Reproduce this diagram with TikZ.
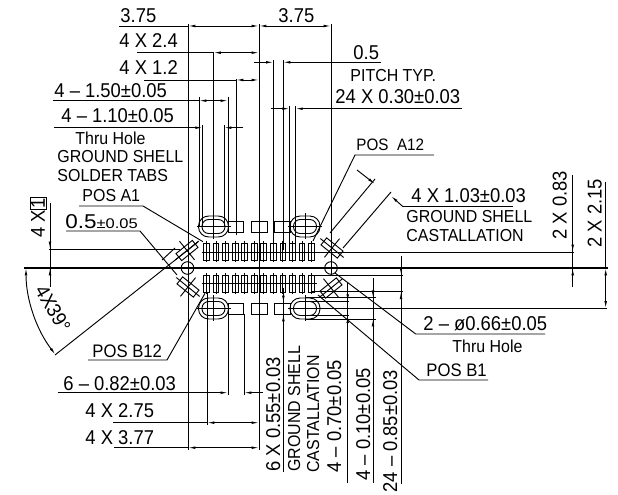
\documentclass[tikz,border=0pt]{standalone}
\usepackage{fontspec}
\setmainfont{Liberation Sans}[FakeStretch=0.92]
\usetikzlibrary{arrows.meta}

\begin{document}
\begin{tikzpicture}[x=0.75pt,y=-0.75pt,line width=0.7pt,color=black,
    >={Latex[length=5.5pt,width=2pt]},
    dimtext/.style={anchor=base west,inner sep=0pt,font=\fontsize{15}{16}\selectfont},
    notetext/.style={anchor=base west,inner sep=0pt,font=\fontsize{13}{15}\selectfont},
    padshell/.style={rounded corners=7.6pt},
    padhole/.style={rounded corners=5pt}]
  \useasboundingbox (0,0) rectangle (618,495);

  % signal pads
  \foreach \i in {0,...,11} {
    \pgfmathsetmacro{\padx}{206.5+9.55*\i}
    \draw (\padx-2.85,243) rectangle (\padx+2.85,260);
    \draw (\padx-2.85,275) rectangle (\padx+2.85,292);
    \draw (\padx,241) -- (\padx,262);
    \draw (\padx,273) -- (\padx,294);
  }
  \draw (202,252) -- (574,252);
  \draw (202,283.5) -- (317,283.5);

  % tab pads
  \foreach \padx in {236,259.5,282.7} {
    \draw (\padx-7.8,221) rectangle (\padx+7.8,232);
    \draw (\padx-7.8,303) rectangle (\padx+7.8,314);
  }

  % shell slots
  \foreach \slotx in {213.5,305} \foreach \sloty in {226.5,308.5} {
    \draw[padshell] (\slotx-15,\sloty-10.5) rectangle (\slotx+15,\sloty+10.5);
    \draw[padhole] (\slotx-11.5,\sloty-7) rectangle (\slotx+11.5,\sloty+7);
    \draw (\slotx-17,\sloty) -- (\slotx+17,\sloty);
    \draw (\slotx,\sloty-13) -- (\slotx,\sloty+13);
  }

  % corner holes and castellations
  \foreach \holex in {187.5,331} {
    \draw (\holex,268) circle[radius=6.3];
  }
  \foreach \cx/\cy/\ang in {187/250.5/39,188/287/-39,332/248/-39,331/288/39} {
    \begin{scope}[shift={(\cx,\cy)},rotate=\ang]
      \draw (-10.5,-4.5) rectangle (10.5,4.5);
      \draw (-15,0) -- (15,0);
      \draw (0,-12) -- (0,12);
    \end{scope}
  }

  % extension lines
  \draw[line width=0.95pt] (24,268) -- (608,268);
  \foreach \xa/\ya/\yb in {188/24/450,259/24/450,331/24/276,213.5/52/214,
      236/79/235,199/97/227,228/97/227,202.7/125/227,224/125/227,
      273.4/60/250,283/60/250,289.6/106/243,295.4/106/243,
      207/293/425,228/314/395,244/314/395} {
    \draw (\xa,\ya) -- (\xa,\yb);
  }
  \foreach \ya/\xa/\xb in {249/49/180,275/312/403,291.7/312/403,
      301.6/305/349,315.6/305/349,297.8/305/376,319/305/376,308.4/305/607} {
    \draw (\xa,\ya) -- (\xb,\ya);
  }

  % top dimensions
  \node[dimtext] (leftwidth) at (120,23) {3.75};
  \draw (119,26) -- (188,26);
  \draw[<->] (188,26) -- (259,26);
  \node[dimtext] (rightwidth) at (278,23) {3.75};
  \draw[<->] (259,26) -- (331,26);
  \node[dimtext] (slotpos) at (119,48) {4 X 2.4};
  \draw (137,52.7) -- (213.5,52.7);
  \draw[<->] (213.5,52.7) -- (259,52.7);
  \node[dimtext] (tabpos) at (119,75) {4 X 1.2};
  \draw (144,80) -- (236,80);
  \draw[<->] (236,80) -- (259,80);
  \node[dimtext] (slotouter) at (54,98) {4 -- 1.50±0.05};
  \draw (53,100.7) -- (199,100.7);
  \draw[<->] (199,100.7) -- (228,100.7);
  \node[dimtext] (slotinner) at (61,123) {4 -- 1.10±0.05};
  \draw[->] (54,127.7) -- (202.7,127.7);
  \draw[->] (243,127.7) -- (224,127.7);
  \node[dimtext] (pitch) at (353,60) {0.5};
  \draw[->] (254,62.3) -- (273.4,62.3);
  \draw[->] (381,62.3) -- (283,62.3);
  \node[notetext] (pitchnote) at (350,82) {PITCH TYP.};
  \node[dimtext] (padwidth) at (335,104) {24 X 0.30±0.03};
  \draw[->] (270.7,108.7) -- (289.6,108.7);
  \draw[->] (461.7,108.7) -- (295.4,108.7);

  % left notes
  \node[notetext] (holenote) at (75,145) {Thru Hole};
  \node[notetext] (shellnote) at (57,162.6) {GROUND SHELL};
  \node[notetext] (tabsnote) at (57,181.7) {SOLDER TABS};
  \node[notetext] (posaone) at (82,202) {POS A1};
  \draw (79,206) -- (143,206) -- (203,241.7);
  \node[dimtext] (slotgap) at (65,229) {\scalebox{1.22}[1]{0.5}{\fontsize{10.5}{12}\selectfont\scalebox{1.28}[1]{±0.05}}};
  \draw (66,231) -- (140,231) -- (177,275);
  \draw (162,260) -- (175,248);
  \node[dimtext,rotate=90] (flat) at (45,238) {4 X\setlength{\fboxsep}{0.5pt}\fbox{1}};
  \draw (50,203) -- (50,287);
  \draw[->] (50,232) -- (50,249);
  \draw[->] (50,287) -- (50,268);

  % angle
  \draw (55,355) -- (198,242);
  \draw[<->] (26,268) arc[start angle=180,end angle=142.4,radius=142];
  \node[dimtext,rotate=-60,anchor=base] (anglelabel) at (47,312) {4X39°};

  % bottom left dimensions
  \node[notetext,font=\fontsize{13.6}{15}\selectfont] (posbtwelve) at (92,358) {POS B12};
  \draw (88,360) -- (167,360) -- (205,293.3);
  \node[dimtext] (tabwidth) at (63,390.7) {6 -- 0.82±0.03};
  \draw[->] (58,392.7) -- (228,392.7);
  \draw[->] (263,392.7) -- (244,392.7);
  \node[dimtext] (padinner) at (85,417.7) {4 X 2.75};
  \draw (113,422.7) -- (207,422.7);
  \draw[<->] (207,422.7) -- (259,422.7);
  \node[dimtext] (padouter) at (85,445) {4 X 3.77};
  \draw (114,447.7) -- (188,447.7);
  \draw[<->] (188,447.7) -- (259,447.7);

  % bottom dimensions, rotated
  \draw (283.4,295) -- (283.4,472);
  \draw[->] (283.4,288) -- (283.4,303);
  \draw[->] (283.4,330) -- (283.4,314);
  \node[dimtext,rotate=90] (tabheight) at (280,472) {6 X 0.55±0.03};
  \node[notetext,rotate=90] (shellbottom) at (300,472) {GROUND SHELL};
  \node[notetext,rotate=90] (castbottom) at (319,473) {CASTALLATION};
  \draw (347.7,283) -- (347.7,483);
  \draw[->] (347.7,283) -- (347.7,301.6);
  \draw[->] (347.7,333) -- (347.7,315.6);
  \node[dimtext,rotate=90] (slotheight) at (341,473) {4 -- 0.70±0.05};
  \draw (373,278) -- (373,483);
  \draw[->] (373,278) -- (373,297.8);
  \draw[->] (373,337) -- (373,319);
  \node[dimtext,rotate=90] (slotgapb) at (370,481) {4 -- 0.10±0.05};
  \draw (401,256) -- (401,484);
  \draw[->] (401,256) -- (401,275);
  \draw[->] (401,310) -- (401,291.7);
  \node[dimtext,rotate=90] (padlength) at (397,493) {24 -- 0.85±0.03};

  % right side
  \node[notetext,font=\fontsize{12.4}{13}\selectfont] (posatwelve) at (356,150.7) {POS\ \ A12};
  \draw (434,155) -- (355,155) -- (313,241);
  \node[dimtext] (castwidth) at (411,202.7) {4 X 1.03±0.03};
  \draw (403,206.7) -- (513,206.7);
  \draw[->] (403,206.7) -- (391,196);
  \draw[->] (357,170) -- (375,184);
  \draw (375,179) -- (330,233);
  \draw (391,192) -- (343,248);
  \node[notetext] (shellright) at (406,222.7) {GROUND SHELL};
  \node[notetext] (castright) at (406,241.7) {CASTALLATION};
  \node[dimtext,rotate=90] (rightinner) at (566.7,240) {2 X 0.83};
  \draw (572.7,175) -- (572.7,287);
  \draw[->] (572.7,232) -- (572.7,252);
  \draw[->] (572.7,287) -- (572.7,268);
  \node[dimtext,rotate=90] (rightouter) at (601.7,248) {2 X 2.15};
  \draw (605.7,182) -- (605.7,268);
  \draw[<->] (605.7,268) -- (605.7,308.4);
  \node[dimtext] (holesize) at (423,330.7) {2 -- ø0.66±0.05};
  \draw (545,334) -- (415.7,334) -- (335,273);
  \node[notetext] (holeright) at (452,352.7) {Thru Hole};
  \node[notetext,font=\fontsize{13.6}{15}\selectfont] (posbone) at (426,377) {POS B1};
  \draw (488,380) -- (419,380) -- (318,295);
\end{tikzpicture}
\end{document}
